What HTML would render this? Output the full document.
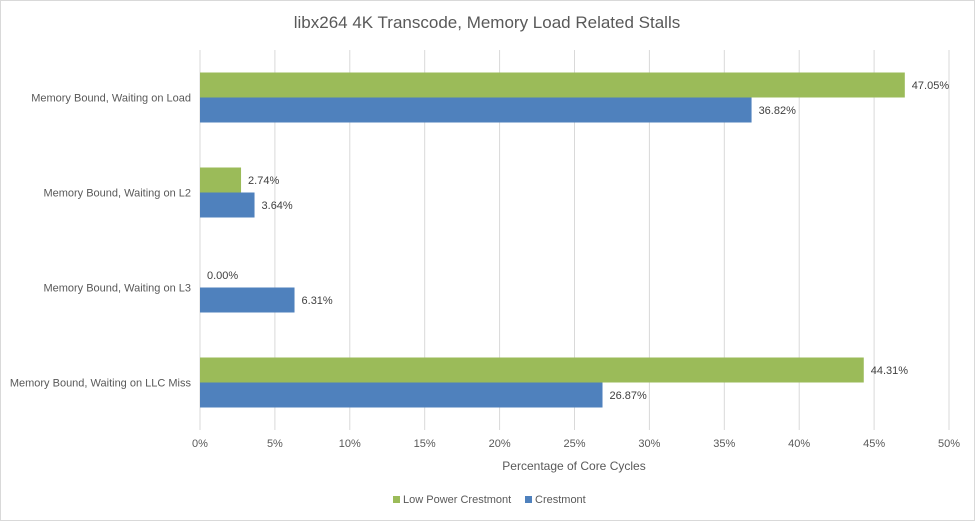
<!DOCTYPE html>
<html><head><meta charset="utf-8"><style>
html,body{margin:0;padding:0;background:#fff;}
svg{display:block;font-family:"Liberation Sans",Calibri,sans-serif;}
</style></head><body>
<svg id="chart" width="975" height="521" viewBox="0 0 975 521">
<rect x="0.5" y="0.5" width="974" height="520" fill="#fff" stroke="#d9d9d9"/>
<text x="487" y="28" text-anchor="middle" font-size="17" fill="#595959">libx264 4K Transcode, Memory Load Related Stalls</text>
<g id="grid"></g><g id="bars"></g><g id="labels"></g>
<text x="574" y="470" text-anchor="middle" font-size="12" fill="#595959">Percentage of Core Cycles</text>
<g>
<rect x="393" y="496" width="7" height="7" fill="#9bbb59"/>
<text x="403" y="503" font-size="11" fill="#595959">Low Power Crestmont</text>
<rect x="525" y="496" width="7" height="7" fill="#4f81bd"/>
<text x="535" y="503" font-size="11" fill="#595959">Crestmont</text>
</g>
</svg>
<script>
const categories = ["Memory Bound, Waiting on Load","Memory Bound, Waiting on L2","Memory Bound, Waiting on L3","Memory Bound, Waiting on LLC Miss"];
const lowPower = [47.05, 2.74, 0.00, 44.31];
const crestmont = [36.82, 3.64, 6.31, 26.87];
const ticks = [0,5,10,15,20,25,30,35,40,45,50];
const NS="http://www.w3.org/2000/svg";
const x0=200,x1=949,yTop=50,yBot=430;
function xs(v){return x0+(v/50)*(x1-x0);}
const band=(yBot-yTop)/categories.length;
function yc(i){return yTop+band*(i+0.5);}
function mk(parent,tag,attrs){const e=document.createElementNS(NS,tag);for(const k in attrs)e.setAttribute(k,attrs[k]);document.getElementById(parent).appendChild(e);return e;}
ticks.forEach(t=>{
  const l=mk('grid','line',{x1:xs(t),x2:xs(t),y1:yTop,y2:yBot,stroke:'#d9d9d9','stroke-width':1});
  
  
  const tx=mk('grid','text',{x:xs(t),y:447,'text-anchor':'middle','font-size':11,fill:'#595959'});
  tx.textContent=t+'%';
  
  
});
const bh=25;
categories.forEach((c,i)=>{
  const cy=yc(i);
  const ct=mk('labels','text',{x:191,y:cy+4,'text-anchor':'end','font-size':11,fill:'#595959'});
  ct.textContent=c;
  
  
  const g=mk('bars','rect',{x:x0,y:cy-bh,width:xs(lowPower[i])-x0,height:bh,fill:'#9bbb59'});
  
  
  const b=mk('bars','rect',{x:x0,y:cy,width:xs(crestmont[i])-x0,height:bh,fill:'#4f81bd'});
  
  
  const gl=mk('labels','text',{x:xs(lowPower[i])+7,y:cy-bh/2+4,'font-size':11,fill:'#404040'});
  gl.textContent=lowPower[i].toFixed(2)+'%';
  
  
  const bl=mk('labels','text',{x:xs(crestmont[i])+7,y:cy+bh/2+4,'font-size':11,fill:'#404040'});
  bl.textContent=crestmont[i].toFixed(2)+'%';
  
  
});
</script>
</body></html>
